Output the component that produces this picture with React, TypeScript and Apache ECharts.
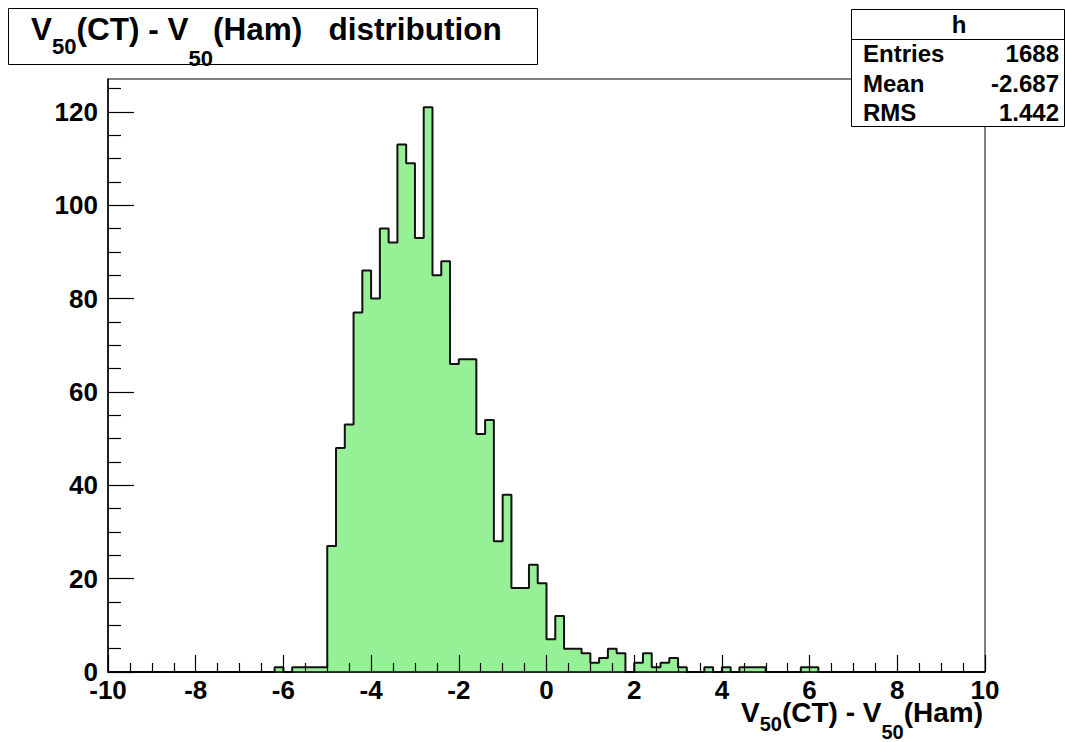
import React, { useEffect, useRef } from 'react';
import * as echarts from 'echarts';

// Histogram "h": 100 bins of width 0.2 from -10 to 10
const BIN_LOW = -10;
const BIN_WIDTH = 0.2;
const counts = [
  0, 0, 0, 0, 0, 0, 0, 0, 0, 0,
  0, 0, 0, 0, 0, 0, 0, 0, 0, 1,
  0, 1, 1, 1, 1, 27, 48, 53, 77, 86,
  80, 95, 92, 113, 109, 93, 121, 85, 88, 66,
  67, 67, 51, 54, 28, 38, 18, 18, 23, 19,
  7, 12, 5, 5, 4, 2, 3, 5, 4, 0,
  2, 4, 1, 2, 3, 1, 0, 0, 1, 0,
  1, 0, 1, 1, 1, 0, 0, 0, 0, 1,
  1, 0, 0, 0, 0, 0, 0, 0, 0, 0,
  0, 0, 0, 0, 0, 0, 0, 0, 0, 0,
];

const X_MIN = -10;
const X_MAX = 10;
const X_INTERVAL = 2;
const Y_MAX = 127.05;
const Y_TICKS = [0, 20, 40, 60, 80, 100, 120];
const Y_MINOR = [5, 10, 15, 25, 30, 35, 45, 50, 55, 65, 70, 75, 85, 90, 95, 105, 110, 115, 125];

const titlePieces = ['V', '50', '(CT) - V', '50', '(Ham)   distribution'];
const axisTitlePieces = ['V', '50', '(CT) - V', '50', '(Ham)'];

const statsName = 'h';
const statsLabels = ['Entries', 'Mean', 'RMS'];
const statsValues = ['1688', '-2.687', '1.442'];

const FONT = '"Liberation Sans", Arial, Helvetica, sans-serif';
const FILL = '#96f096';

let ctx: CanvasRenderingContext2D | null = null;
function measure(text: string, size: number): number {
  if (!ctx) ctx = document.createElement('canvas').getContext('2d');
  if (!ctx) return text.length * size * 0.6;
  ctx.font = `bold ${size}px ${FONT}`;
  return ctx.measureText(text).width;
}

// pieces alternate normal / subscript; subDy gives the subscript offsets
function subscriptText(
  pieces: string[], x0: number, yMid: number, size: number, subSize: number,
  subDy: number[], align: 'left' | 'right', z: number,
): any[] {
  const widths = pieces.map((p, i) => measure(p, i % 2 === 1 ? subSize : size));
  const total = widths.reduce((a, b) => a + b, 0);
  let x = align === 'left' ? x0 : x0 - total;
  const out: any[] = [];
  pieces.forEach((p, i) => {
    const isSub = i % 2 === 1;
    out.push({
      type: 'text', x, y: yMid + (isSub ? subDy[(i - 1) / 2] : 0), z,
      style: {
        text: p, fill: '#000', font: `bold ${isSub ? subSize : size}px ${FONT}`,
        align: 'left', verticalAlign: 'middle',
      },
    });
    x += widths[i];
  });
  return out;
}

export default function App() {
  const ref = useRef<HTMLDivElement>(null);
  useEffect(() => {
    const chart = echarts.init(ref.current!, null, { renderer: 'svg' });
    const points: number[][] = counts.map((c, i) => [Number((BIN_LOW + i * BIN_WIDTH).toFixed(2)), c]);
    points.push([Number((BIN_LOW + counts.length * BIN_WIDTH).toFixed(2)), 0]);

    const statRows: any[] = [];
    const rowY = [53, 83, 112];
    statsLabels.forEach((lab, i) => {
      statRows.push({
        type: 'text', x: 863, y: rowY[i], z: 101,
        style: { text: lab, fill: '#000', font: `bold 24px ${FONT}`, align: 'left', verticalAlign: 'middle' },
      });
      statRows.push({
        type: 'text', x: 1059, y: rowY[i], z: 101,
        style: { text: statsValues[i], fill: '#000', font: `bold 24px ${FONT}`, align: 'right', verticalAlign: 'middle' },
      });
    });

    chart.setOption({
      animation: false,
      backgroundColor: '#fff',
      grid: {
        left: 108, top: 79, right: 80, bottom: 70,
        show: true, borderColor: '#000', borderWidth: 1, backgroundColor: 'transparent',
        containLabel: false, outerBoundsMode: 'none',
      },
      xAxis: {
        type: 'value', min: X_MIN, max: X_MAX, interval: X_INTERVAL, z: 5,
        axisLine: { show: true, onZero: false, lineStyle: { color: '#000', width: 1.5 } },
        axisTick: { show: true, inside: true, length: 17, lineStyle: { color: '#000', width: 1.2 } },
        minorTick: { show: true, splitNumber: 4, length: 9, lineStyle: { color: '#000', width: 1.2 } },
        axisLabel: { color: '#000', fontSize: 26, fontWeight: 'bold', fontFamily: FONT, margin: 5, showMinLabel: true, showMaxLabel: true },
        splitLine: { show: false },
        minorSplitLine: { show: false },
      },
      yAxis: [
        {
          type: 'value', min: 0, max: Y_MAX, position: 'left', z: 5,
          axisLine: { show: true, onZero: false, lineStyle: { color: '#000', width: 1.5 } },
          axisTick: { show: true, inside: true, length: 26, customValues: Y_TICKS, lineStyle: { color: '#000', width: 1.2 } },
          axisLabel: { customValues: Y_TICKS, color: '#000', fontSize: 26, fontWeight: 'bold', fontFamily: FONT, margin: 10 },
          splitLine: { show: false },
        },
        {
          type: 'value', min: 0, max: Y_MAX, position: 'left', offset: 0, z: 5,
          axisLine: { show: false, onZero: false },
          axisTick: { show: true, inside: true, length: 13, customValues: Y_MINOR, lineStyle: { color: '#000', width: 1.2 } },
          axisLabel: { show: false },
          splitLine: { show: false },
        },
      ],
      series: [
        {
          type: 'line', step: 'end', data: points, symbol: 'none', z: 2,
          lineStyle: { color: '#111', width: 2 },
          areaStyle: { color: FILL, opacity: 1 },
        },
      ],
      graphic: [
        {
          type: 'rect', z: 100,
          shape: { x: 8.5, y: 8.5, width: 529, height: 56 },
          style: { fill: '#fff', stroke: '#000', lineWidth: 1 },
        },
        ...subscriptText(titlePieces, 31, 29, 31.5, 22, [17, 29], 'left', 101),
        {
          type: 'rect', z: 100,
          shape: { x: 851.5, y: 9.5, width: 213, height: 117 },
          style: { fill: '#fff', stroke: '#000', lineWidth: 1 },
        },
        {
          type: 'line', z: 101,
          shape: { x1: 851.5, y1: 39.5, x2: 1064.5, y2: 39.5 },
          style: { stroke: '#000', lineWidth: 1 },
        },
        {
          type: 'text', x: 959, y: 24, z: 101,
          style: { text: statsName, fill: '#000', font: `bold 24px ${FONT}`, align: 'center', verticalAlign: 'middle' },
        },
        ...statRows,
        ...subscriptText(axisTitlePieces, 983, 712, 28, 20, [12, 20], 'right', 101),
      ],
    });
    return () => chart.dispose();
  }, []);
  return <div ref={ref} style={{ position: 'fixed', left: 0, top: 0, width: 1065, height: 742 }} />;
}
